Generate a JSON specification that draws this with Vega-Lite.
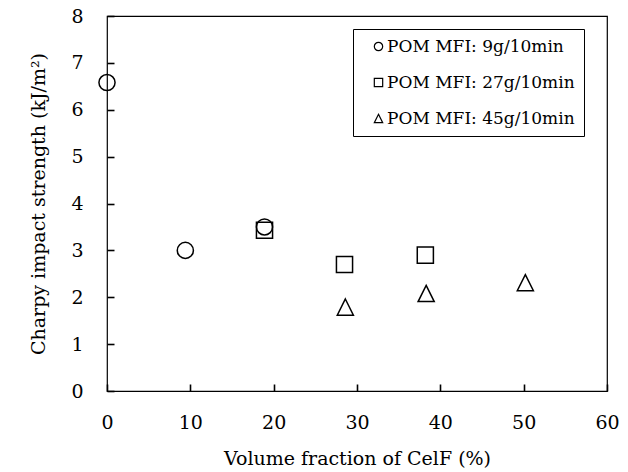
{
  "$schema": "https://vega.github.io/schema/vega-lite/v6.json",
  "width": 500,
  "height": 375,
  "autosize": "none",
  "padding": {"left": 107, "top": 16, "right": 21, "bottom": 81},
  "background": "white",
  "config": {
    "font": "DejaVu Serif",
    "view": {"stroke": "black", "strokeWidth": 1.2},
    "axis": {
      "grid": false,
      "domain": false,
      "ticks": true,
      "zindex": 1,
      "tickColor": "#000000",
      "tickSize": 7,
      "tickWidth": 1.6,
      "labelFont": "DejaVu Serif",
      "labelFontSize": 19,
      "labelColor": "black",
      "titleFont": "DejaVu Serif",
      "titleFontSize": 19,
      "titleFontWeight": "normal",
      "titleColor": "black"
    }
  },
  "data": {
    "values": [
      {"x": 0, "y": 6.58, "series": "POM MFI: 9g/10min"},
      {"x": 9.4, "y": 3.0, "series": "POM MFI: 9g/10min"},
      {"x": 18.9, "y": 3.5, "series": "POM MFI: 9g/10min"},
      {"x": 18.9, "y": 3.43, "series": "POM MFI: 27g/10min"},
      {"x": 28.5, "y": 2.7, "series": "POM MFI: 27g/10min"},
      {"x": 38.2, "y": 2.9, "series": "POM MFI: 27g/10min"},
      {"x": 28.6, "y": 1.79, "series": "POM MFI: 45g/10min"},
      {"x": 38.3, "y": 2.08, "series": "POM MFI: 45g/10min"},
      {"x": 50.2, "y": 2.31, "series": "POM MFI: 45g/10min"}
    ]
  },
  "mark": {"type": "point", "filled": false, "stroke": "black", "strokeWidth": 1.5, "size": 260, "opacity": 1},
  "encoding": {
    "x": {
      "field": "x",
      "type": "quantitative",
      "scale": {"domain": [0, 60], "nice": false, "zero": false},
      "axis": {
        "values": [0, 10, 20, 30, 40, 50, 60],
        "title": "Volume fraction of CelF (%)",
        "labelPadding": 22,
        "titlePadding": 17,
        "labelFlush": false,
        "offset": -7
      }
    },
    "y": {
      "field": "y",
      "type": "quantitative",
      "scale": {"domain": [0, 8], "nice": false},
      "axis": {
        "values": [0, 1, 2, 3, 4, 5, 6, 7, 8],
        "title": "Charpy impact strength (kJ/m²)",
        "labelPadding": 24,
        "titlePadding": 22,
        "labelFlush": false,
        "offset": -7
      }
    },
    "shape": {
      "field": "series",
      "type": "nominal",
      "scale": {"domain": ["POM MFI: 9g/10min", "POM MFI: 27g/10min", "POM MFI: 45g/10min"], "range": ["circle", "square", "M0,-1L1,1L-1,1Z"]},
      "legend": {
        "title": null,
        "orient": "none",
        "legendX": 246,
        "legendY": 13,
        "strokeColor": "black",
        "fillColor": "white",
        "padding": 9,
        "symbolOffset": 8,
        "symbolSize": 70,
        "symbolStrokeColor": "black",
        "symbolFillColor": "transparent",
        "symbolStrokeWidth": 1.2,
        "labelFont": "DejaVu Serif",
        "labelFontSize": 17,
        "labelColor": "black",
        "labelOffset": 0,
        "labelLimit": 0,
        "rowPadding": 18
      }
    }
  }
}
